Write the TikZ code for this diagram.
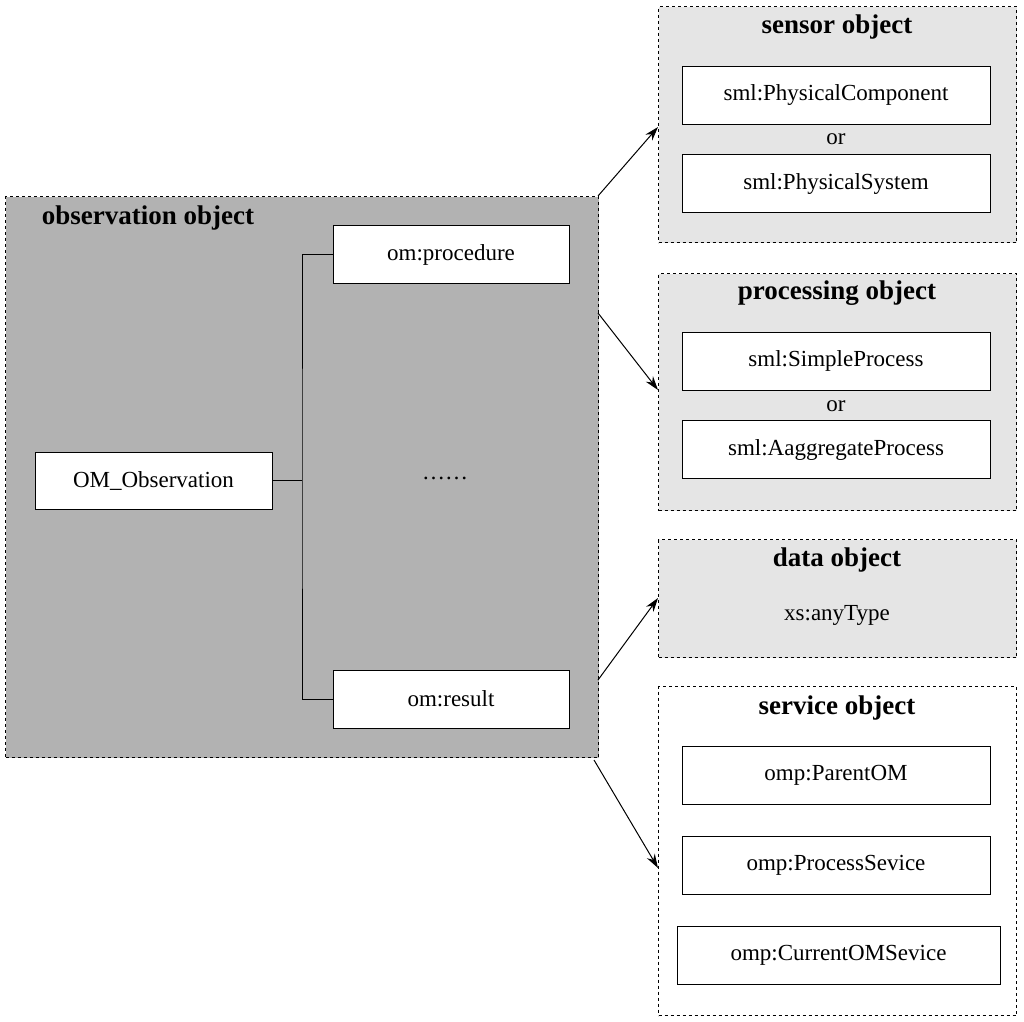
\documentclass[tikz,border=0pt]{standalone}
\usepackage{fontspec}
\setmainfont{Liberation Serif}
\usetikzlibrary{arrows.meta}
\begin{document}
\begin{tikzpicture}[x=1pt,y=-1pt,
  grp/.style={draw,dashed,line width=1pt,anchor=north west,inner sep=0pt},
  itm/.style={draw,fill=white,line width=0.9pt,minimum height=58pt,inner sep=0pt,font=\fontsize{23}{26}\selectfont},
  ttl/.style={font=\bfseries\fontsize{27}{30}\selectfont},
  txt/.style={font=\fontsize{23}{26}\selectfont},
  arr/.style={-{Stealth[length=14pt,width=9pt]},line width=1pt}]
\useasboundingbox (0,0) rectangle (1024,1021);
% observation
\node[grp,fill=black!30,minimum width=593pt,minimum height=561pt] (obs) at (5,196) {};
\node[ttl] (obst) at (148,218) {observation object};
\node[itm,minimum width=236pt] (proc) at (451,254.5) {om:procedure};
\node[itm,minimum width=237pt,minimum height=57pt] (omo) at (153.5,480.5) {OM\_Observation};
\node[txt] (dots) at (445,478) {……};
\node[itm,minimum width=236pt] (res) at (451,699) {om:result};
\coordinate (j1) at (302,480.5);
\draw[line width=1pt] (omo.east) -- (j1);
\draw[line width=1pt] (proc.west) -| (302,480.5) |- (res.west);
% sensor
\node[grp,fill=black!10,minimum width=358pt,minimum height=236pt] (sen) at (658,6) {};
\node[ttl] (sent) at (837,27) {sensor object};
\node[itm,minimum width=308pt] (s1) at (836,95) {sml:PhysicalComponent};
\node[txt] (sor) at (836,139) {or};
\node[itm,minimum width=308pt] (s2) at (836,183.5) {sml:PhysicalSystem};
% processing
\node[grp,fill=black!10,minimum width=358pt,minimum height=237pt] (pro) at (658,273) {};
\node[ttl] (prot) at (837,293) {processing object};
\node[itm,minimum width=308pt] (p1) at (836,361) {sml:SimpleProcess};
\node[txt] (por) at (836,406) {or};
\node[itm,minimum width=308pt] (p2) at (836,449.5) {sml:AaggregateProcess};
% data
\node[grp,fill=black!10,minimum width=358pt,minimum height=118pt] (dat) at (658,539) {};
\node[ttl] (datt) at (837,560) {data object};
\node[txt] (xs) at (837,615) {xs:anyType};
% service
\node[grp,fill=white,minimum width=358pt,minimum height=329pt] (ser) at (658,686) {};
\node[ttl] (sert) at (837,708) {service object};
\node[itm,minimum width=308pt] (v1) at (836,775.5) {omp:ParentOM};
\node[itm,minimum width=308pt] (v2) at (836,865) {omp:ProcessSevice};
\node[itm,minimum width=323pt] (v3) at (838.5,955) {omp:CurrentOMSevice};
% arrows
\coordinate (a1s) at (598,196); \coordinate (a1e) at (658,127);
\coordinate (a2s) at (598,313); \coordinate (a2e) at (658,390);
\coordinate (a3s) at (598,680); \coordinate (a3e) at (658,598);
\coordinate (a4s) at (594,760); \coordinate (a4e) at (658,868);
\draw[arr] (a1s) -- (a1e);
\draw[arr] (a2s) -- (a2e);
\draw[arr] (a3s) -- (a3e);
\draw[arr] (a4s) -- (a4e);
\end{tikzpicture}
\end{document}
